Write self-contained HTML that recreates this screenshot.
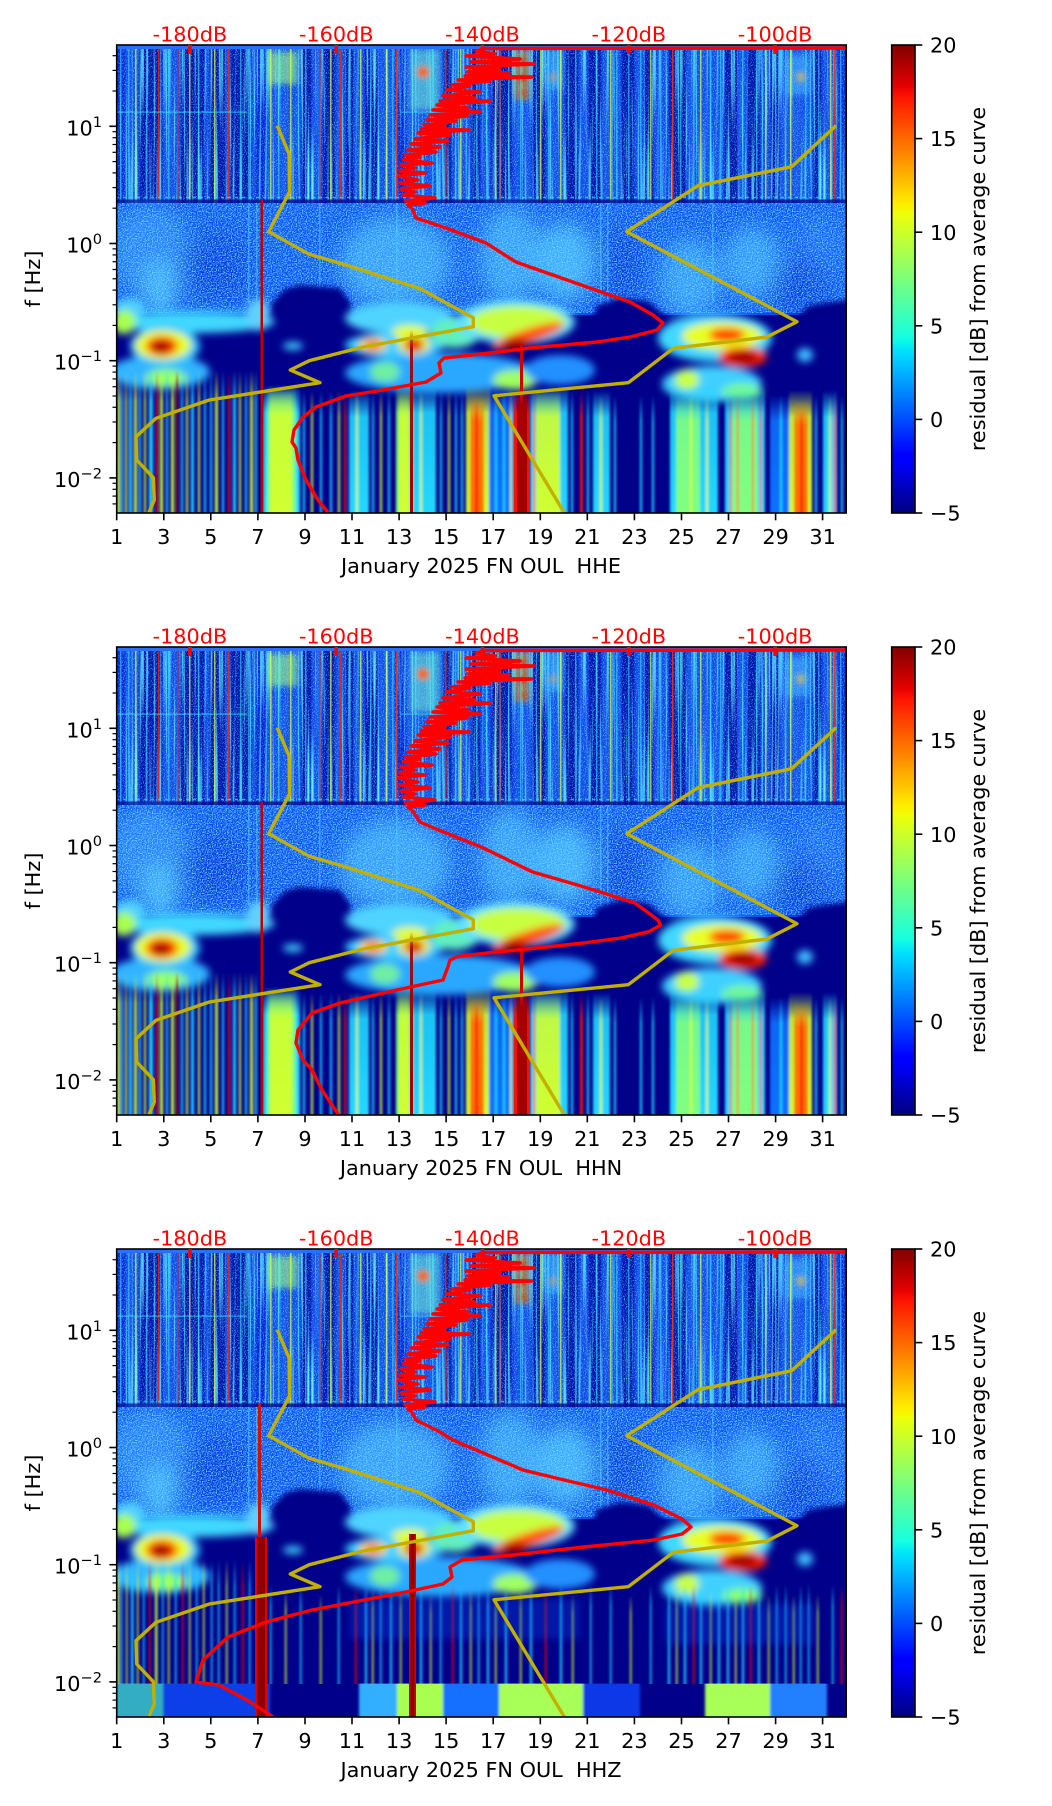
<!DOCTYPE html>
<html><head><meta charset="utf-8"><style>
html,body{margin:0;padding:0;background:#fff;}
svg{display:block;font-family:"DejaVu Sans","Liberation Sans",sans-serif;}
</style></head><body>
<svg xmlns="http://www.w3.org/2000/svg" width="1052" height="1806" viewBox="0 0 1052 1806">
<rect width="1052" height="1806" fill="#fff"/>
<defs>
<clipPath id="cp"><rect x="116.7" y="45" width="729.5" height="468"/></clipPath>
<linearGradient id="jet" x1="0" y1="1" x2="0" y2="0">
<stop offset="0" stop-color="#000080"/><stop offset="0.11" stop-color="#0000ff"/><stop offset="0.125" stop-color="#0000ff"/>
<stop offset="0.34" stop-color="#00dbff"/><stop offset="0.35" stop-color="#00e5f8"/><stop offset="0.375" stop-color="#14ffe2"/>
<stop offset="0.5" stop-color="#7bff7b"/><stop offset="0.64" stop-color="#eeff08"/><stop offset="0.65" stop-color="#f8f500"/>
<stop offset="0.66" stop-color="#ffed00"/><stop offset="0.89" stop-color="#ff1300"/><stop offset="0.91" stop-color="#e80000"/>
<stop offset="1" stop-color="#800000"/>
</linearGradient>
<linearGradient id="gY" x2="0" y2="1"><stop offset="0" stop-color="#d0ff30" stop-opacity="0"/><stop offset=".22" stop-color="#d0ff30" stop-opacity=".9"/><stop offset="1" stop-color="#d0ff30"/></linearGradient>
<linearGradient id="gG" x2="0" y2="1"><stop offset="0" stop-color="#80ff80" stop-opacity="0"/><stop offset=".22" stop-color="#80ff80" stop-opacity=".9"/><stop offset="1" stop-color="#80ff80"/></linearGradient>
<linearGradient id="gC" x2="0" y2="1"><stop offset="0" stop-color="#20d8ff" stop-opacity="0"/><stop offset=".22" stop-color="#20d8ff" stop-opacity=".9"/><stop offset="1" stop-color="#20d8ff"/></linearGradient>
<linearGradient id="gLB" x2="0" y2="1"><stop offset="0" stop-color="#1070ff" stop-opacity="0"/><stop offset=".22" stop-color="#1070ff" stop-opacity=".9"/><stop offset="1" stop-color="#1070ff"/></linearGradient>
<linearGradient id="gO" x2="0" y2="1"><stop offset="0" stop-color="#ff7000" stop-opacity="0"/><stop offset=".22" stop-color="#ff7000" stop-opacity=".9"/><stop offset="1" stop-color="#ff7000"/></linearGradient>
<linearGradient id="gR" x2="0" y2="1"><stop offset="0" stop-color="#ff1000" stop-opacity="0"/><stop offset=".22" stop-color="#ff1000" stop-opacity=".9"/><stop offset="1" stop-color="#ff1000"/></linearGradient>
<linearGradient id="gDR" x2="0" y2="1"><stop offset="0" stop-color="#a00000" stop-opacity="0"/><stop offset=".1" stop-color="#a00000" stop-opacity=".9"/><stop offset="1" stop-color="#a00000"/></linearGradient>
<filter id="b3" x="-20%" y="-20%" width="140%" height="140%"><feGaussianBlur stdDeviation="3"/></filter>
<filter id="b4" x="-20%" y="-20%" width="140%" height="140%"><feGaussianBlur stdDeviation="4"/></filter>
<filter id="b10" x="-30%" y="-30%" width="160%" height="160%"><feGaussianBlur stdDeviation="10"/></filter>
<filter id="bh" x="-20%" y="-5%" width="140%" height="110%"><feGaussianBlur stdDeviation="1.2 0"/></filter>
<filter id="nA" filterUnits="userSpaceOnUse" x="116" y="45" width="731" height="158">
<feTurbulence type="fractalNoise" baseFrequency="0.5 0.008" numOctaves="1" seed="5"/>
<feColorMatrix type="matrix" values="0 0 0 0 0.1  0 0 0 0 0.8  0 0 0 0 1  3.5 0 0 0 -1.75"/>
</filter>
<filter id="nS" filterUnits="userSpaceOnUse" x="116" y="45" width="731" height="158">
<feTurbulence type="fractalNoise" baseFrequency="0.9" numOctaves="1" seed="9"/>
<feColorMatrix type="matrix" values="0 0 0 0 0.2  0 0 0 0 0.85  0 0 0 0 1  3 0 0 0 -1.55"/>
</filter>
<filter id="nB" filterUnits="userSpaceOnUse" x="116" y="203" width="731" height="110">
<feTurbulence type="fractalNoise" baseFrequency="0.8" numOctaves="1" seed="2"/>
<feColorMatrix type="matrix" values="0 0 0 0 0.15  0 0 0 0 0.75  0 0 0 0 1  3 0 0 0 -1.25"/>
</filter>

<g id="spec">
<rect x="116" y="45" width="731" height="468" fill="#00008a"/>
<!-- region A -->
<rect x="116" y="45" width="731" height="158" fill="#0524d8"/>
<g fill="#020c98" opacity="0.65">
<rect x="140" y="45" width="20" height="158"/><rect x="181" y="45" width="23" height="158"/><rect x="210" y="45" width="15" height="158"/>
<rect x="231" y="45" width="19" height="158"/><rect x="302" y="45" width="9" height="158"/><rect x="323" y="45" width="12" height="158"/>
<rect x="346" y="45" width="7" height="158"/><rect x="365" y="45" width="12" height="158"/><rect x="444" y="45" width="7" height="158"/>
<rect x="472" y="45" width="8" height="158"/><rect x="491" y="45" width="21" height="158"/><rect x="533" y="45" width="12" height="158"/>
<rect x="566" y="45" width="12" height="158"/><rect x="589" y="45" width="12" height="158"/><rect x="622" y="45" width="12" height="158"/>
<rect x="645" y="45" width="8" height="158"/><rect x="669" y="45" width="16" height="158"/><rect x="725" y="45" width="12" height="158"/>
<rect x="748" y="45" width="12" height="158"/><rect x="771" y="45" width="8" height="158"/><rect x="814" y="45" width="7" height="158"/>
</g>
<g fill="#2a90ff" opacity="0.38" filter="url(#bh)">
<rect x="125" y="45" width="14" height="158"/><rect x="163" y="45" width="16" height="158"/><rect x="205" y="45" width="4" height="158"/>
<rect x="226" y="45" width="4" height="158"/><rect x="251" y="45" width="5" height="158"/><rect x="266" y="45" width="35" height="158"/>
<rect x="312" y="45" width="10" height="158"/><rect x="336" y="45" width="9" height="158"/><rect x="354" y="45" width="10" height="158"/>
<rect x="378" y="45" width="18" height="158"/><rect x="406" y="45" width="37" height="158"/><rect x="452" y="45" width="19" height="158"/>
<rect x="481" y="45" width="9" height="158"/><rect x="513" y="45" width="19" height="158"/><rect x="546" y="45" width="19" height="158"/>
<rect x="579" y="45" width="9" height="158"/><rect x="602" y="45" width="19" height="158"/><rect x="635" y="45" width="9" height="158"/>
<rect x="654" y="45" width="14" height="158"/><rect x="686" y="45" width="38" height="158"/><rect x="738" y="45" width="9" height="158"/>
<rect x="761" y="45" width="9" height="158"/><rect x="780" y="45" width="33" height="158"/><rect x="822" y="45" width="16" height="158"/>
</g>
<rect x="116" y="45" width="731" height="158" filter="url(#nA)"/>
<rect x="116" y="45" width="731" height="158" filter="url(#nS)"/>
<g filter="url(#b3)">
<rect x="268" y="52" width="30" height="32" fill="#a0ff80" opacity="0.6"/>
<rect x="410" y="50" width="30" height="60" fill="#70f0d0" opacity="0.55"/>
<ellipse cx="423" cy="72" rx="6" ry="6" fill="#ff6000"/>
<rect x="515" y="50" width="14" height="50" fill="#ffa000" opacity="0.55"/>
<ellipse cx="521" cy="62" rx="4" ry="5" fill="#c00000"/><ellipse cx="522" cy="78" rx="4" ry="5" fill="#d00000"/><ellipse cx="523" cy="93" rx="3" ry="4" fill="#d00000"/>
<ellipse cx="553" cy="77" rx="4" ry="4" fill="#ff8000"/>
<ellipse cx="801" cy="77" rx="5" ry="5" fill="#ffa000"/>
<rect x="548" y="50" width="15" height="40" fill="#50d0ff" opacity="0.5"/>
<rect x="785" y="55" width="25" height="40" fill="#50d0ff" opacity="0.45"/>
</g>
<g fill="#ff2000" opacity="0.8">
<rect x="158" y="45" width="1.5" height="158"/><rect x="177" y="45" width="1.5" height="158"/><rect x="228" y="45" width="1.5" height="158"/>
<rect x="319" y="45" width="1.5" height="158"/><rect x="340" y="45" width="1.5" height="158"/><rect x="396" y="45" width="1.5" height="158"/>
<rect x="445" y="45" width="1.5" height="158"/><rect x="499" y="45" width="1.5" height="158"/><rect x="672" y="45" width="1.5" height="158"/>
<rect x="834" y="45" width="1.5" height="158"/>
</g>
<g fill="#e0ff40" opacity="0.7">
<rect x="135" y="45" width="1.5" height="158"/><rect x="189" y="45" width="1.5" height="158"/><rect x="214" y="45" width="1.5" height="158"/>
<rect x="270" y="45" width="1.5" height="158"/><rect x="290" y="45" width="1.5" height="158"/><rect x="330" y="45" width="1.5" height="158"/>
<rect x="360" y="45" width="1.5" height="158"/><rect x="386" y="45" width="1.5" height="158"/><rect x="460" y="45" width="1.5" height="158"/>
<rect x="495" y="45" width="1.5" height="158"/><rect x="540" y="45" width="1.5" height="158"/><rect x="560" y="45" width="1.5" height="158"/>
<rect x="610" y="45" width="1.5" height="158"/><rect x="650" y="45" width="1.5" height="158"/><rect x="700" y="45" width="1.5" height="158"/>
<rect x="765" y="45" width="1.5" height="158"/><rect x="790" y="45" width="1.5" height="158"/><rect x="830" y="45" width="1.5" height="158"/>
</g>
<g fill="#40e0ff" opacity="0.55">
<rect x="120" y="45" width="1.5" height="158"/><rect x="128" y="45" width="1.5" height="158"/><rect x="146" y="45" width="1.5" height="158"/>
<rect x="168" y="45" width="1.5" height="158"/><rect x="198" y="45" width="1.5" height="158"/><rect x="240" y="45" width="1.5" height="158"/>
<rect x="248" y="45" width="1.5" height="158"/><rect x="278" y="45" width="1.5" height="158"/><rect x="305" y="45" width="1.5" height="158"/>
<rect x="349" y="45" width="1.5" height="158"/><rect x="370" y="45" width="1.5" height="158"/><rect x="392" y="45" width="1.5" height="158"/>
<rect x="415" y="45" width="1.5" height="158"/><rect x="432" y="45" width="1.5" height="158"/><rect x="455" y="45" width="1.5" height="158"/>
<rect x="476" y="45" width="1.5" height="158"/><rect x="486" y="45" width="1.5" height="158"/><rect x="508" y="45" width="1.5" height="158"/>
<rect x="520" y="45" width="1.5" height="158"/><rect x="548" y="45" width="1.5" height="158"/><rect x="575" y="45" width="1.5" height="158"/>
<rect x="596" y="45" width="1.5" height="158"/><rect x="616" y="45" width="1.5" height="158"/><rect x="628" y="45" width="1.5" height="158"/>
<rect x="640" y="45" width="1.5" height="158"/><rect x="660" y="45" width="1.5" height="158"/><rect x="680" y="45" width="1.5" height="158"/>
<rect x="693" y="45" width="1.5" height="158"/><rect x="710" y="45" width="1.5" height="158"/><rect x="720" y="45" width="1.5" height="158"/>
<rect x="742" y="45" width="1.5" height="158"/><rect x="756" y="45" width="1.5" height="158"/><rect x="775" y="45" width="1.5" height="158"/>
<rect x="785" y="45" width="1.5" height="158"/><rect x="805" y="45" width="1.5" height="158"/><rect x="818" y="45" width="1.5" height="158"/>
<rect x="840" y="45" width="1.5" height="158"/>
</g>
<rect x="116" y="111.5" width="131" height="1.3" fill="#40e0ff" opacity="0.6"/>
<rect x="400" y="111.5" width="60" height="1.3" fill="#40e0ff" opacity="0.5"/>
<rect x="116" y="45" width="731" height="4" fill="#2a70ff"/>
<line x1="116" y1="197.5" x2="847" y2="197.5" stroke="#40e0ff" stroke-width="1.5" stroke-dasharray="3 4" opacity="0.7"/>
<rect x="116" y="199.5" width="731" height="3.5" fill="#000a90" opacity="0.8"/>
<!-- region B -->
<rect x="116" y="203" width="731" height="112" fill="#0c4cf4"/>
<g filter="url(#b10)" opacity="0.85">
<ellipse cx="150" cy="250" rx="40" ry="45" fill="#2a80ff"/>
<ellipse cx="160" cy="290" rx="16" ry="30" fill="#50c0ff"/>
<ellipse cx="395" cy="262" rx="55" ry="45" fill="#3ea4ff"/>
<ellipse cx="510" cy="255" rx="30" ry="48" fill="#3ea4ff"/>
<ellipse cx="565" cy="262" rx="30" ry="40" fill="#4ab8ff"/>
<ellipse cx="690" cy="278" rx="30" ry="40" fill="#3aa0ff"/>
<ellipse cx="752" cy="262" rx="28" ry="35" fill="#3aa0ff"/>
<ellipse cx="820" cy="250" rx="25" ry="40" fill="#1a60ff"/>
<ellipse cx="215" cy="265" rx="35" ry="35" fill="#0520c8" opacity="0.6"/>
<ellipse cx="620" cy="265" rx="25" ry="35" fill="#0520c8" opacity="0.6"/>
<ellipse cx="800" cy="285" rx="30" ry="30" fill="#0520c8" opacity="0.6"/>
</g>
<rect x="116" y="203" width="731" height="112" filter="url(#nB)"/>
<g fill="#50d0ff" opacity="0.5">
<rect x="248" y="203" width="1.5" height="100"/><rect x="256" y="203" width="1.5" height="100"/><rect x="319" y="203" width="1.5" height="90"/>
<rect x="396" y="203" width="1.5" height="100"/><rect x="600" y="203" width="1.5" height="100"/><rect x="607" y="203" width="1.5" height="100"/>
<rect x="712" y="203" width="1.5" height="100"/>
</g>
<!-- navy mountains -->
<g fill="#00008a" filter="url(#b3)">
<polygon points="255,352 262,325 272,303 285,289 300,285 340,288 350,302 357,330 362,352"/>
<polygon points="588,354 596,306 620,298 648,301 665,316 682,336 690,354"/>
<polygon points="778,364 790,326 808,306 830,302 850,300 850,368"/>
<rect x="110" y="334" width="152" height="20"/>
<rect x="216" y="347" width="134" height="48"/>
</g>
<!-- blobs -->
<g filter="url(#b4)">
<ellipse cx="160" cy="372" rx="50" ry="17" fill="#30b4ff"/>
<ellipse cx="166" cy="378" rx="20" ry="9" fill="#90ff70"/>
<ellipse cx="440" cy="373" rx="95" ry="20" fill="#2aa8ff"/>
<ellipse cx="515" cy="380" rx="22" ry="10" fill="#a0ff60"/>
<ellipse cx="385" cy="372" rx="15" ry="10" fill="#70f0a0"/>
<ellipse cx="560" cy="370" rx="35" ry="15" fill="#2090ff"/>
<ellipse cx="712" cy="384" rx="50" ry="18" fill="#40d0ff"/>
<ellipse cx="687" cy="380" rx="12" ry="10" fill="#c8ff40"/>
<ellipse cx="742" cy="392" rx="20" ry="8" fill="#80ff80"/>
<ellipse cx="195" cy="322" rx="80" ry="11" fill="#40d8ff"/>
<ellipse cx="130" cy="308" rx="15" ry="10" fill="#50d0ff"/>
<ellipse cx="124" cy="322" rx="12" ry="12" fill="#a8ff50"/>
<ellipse cx="258" cy="315" rx="12" ry="16" fill="#60d0ff"/>
<ellipse cx="165" cy="346" rx="35" ry="20" fill="#30c8ff"/>
<ellipse cx="163" cy="345" rx="28" ry="15" fill="#e8ff20"/>
<ellipse cx="162" cy="346" rx="16" ry="10" fill="#ff4000"/>
<ellipse cx="161" cy="347" rx="9" ry="6" fill="#a00000"/>
<ellipse cx="400" cy="318" rx="55" ry="16" fill="#50d4ff"/>
<ellipse cx="395" cy="345" rx="50" ry="12" fill="#40d0ff"/>
<ellipse cx="410" cy="332" rx="18" ry="7" fill="#e0ff30"/>
<ellipse cx="414" cy="344" rx="16" ry="10" fill="#f0f020"/>
<ellipse cx="414" cy="345" rx="9" ry="7" fill="#e00000"/>
<ellipse cx="373" cy="345" rx="14" ry="7" fill="#ffd000"/>
<ellipse cx="373" cy="345" rx="8" ry="4" fill="#ff5000"/>
<ellipse cx="455" cy="333" rx="25" ry="15" fill="#60f0c0"/>
<ellipse cx="515" cy="322" rx="60" ry="22" fill="#60e0ff"/>
<ellipse cx="518" cy="322" rx="48" ry="16" fill="#c8ff40"/>
<ellipse cx="528" cy="336" rx="38" ry="7" fill="#ff5000" transform="rotate(-18 528 336)"/>
<ellipse cx="514" cy="344" rx="12" ry="6" fill="#b00000"/>
<ellipse cx="715" cy="338" rx="57" ry="24" fill="#40d8ff"/>
<ellipse cx="722" cy="336" rx="40" ry="14" fill="#e8ff20"/>
<ellipse cx="727" cy="335" rx="18" ry="7" fill="#ff4000"/>
<ellipse cx="743" cy="357" rx="24" ry="10" fill="#ff2000"/>
<ellipse cx="743" cy="357" rx="15" ry="6" fill="#a00000"/>
<ellipse cx="805" cy="355" rx="8" ry="7" fill="#40c0ff"/>
<ellipse cx="293" cy="346" rx="10" ry="4" fill="#40d0ff"/>
</g>
</g>

<g id="low12">
<g filter="url(#bh)">
<rect x="117" y="370" width="3" height="143" fill="url(#gY)"/><rect x="121" y="370" width="2" height="143" fill="url(#gC)"/>
<rect x="125" y="370" width="2" height="143" fill="url(#gY)"/><rect x="129" y="370" width="3" height="143" fill="url(#gC)"/>
<rect x="134" y="370" width="3" height="143" fill="url(#gY)"/><rect x="139" y="370" width="2" height="143" fill="url(#gC)"/>
<rect x="144" y="370" width="2" height="143" fill="url(#gY)"/><rect x="149" y="370" width="4" height="143" fill="url(#gC)"/>
<rect x="156" y="370" width="2" height="143" fill="url(#gR)"/><rect x="160" y="370" width="3" height="143" fill="url(#gY)"/>
<rect x="166" y="370" width="2" height="143" fill="url(#gC)"/><rect x="171" y="370" width="3" height="143" fill="url(#gY)"/>
<rect x="176" y="370" width="2" height="143" fill="url(#gDR)"/><rect x="181" y="370" width="2" height="143" fill="url(#gC)"/>
<rect x="186" y="370" width="2" height="143" fill="url(#gY)"/><rect x="191" y="370" width="3" height="143" fill="url(#gC)"/>
<rect x="198" y="370" width="2" height="143" fill="url(#gY)"/><rect x="204" y="370" width="2" height="143" fill="url(#gC)"/>
<rect x="210" y="370" width="2" height="143" fill="url(#gC)"/><rect x="215" y="370" width="3" height="143" fill="url(#gY)"/>
<rect x="222" y="370" width="2" height="143" fill="url(#gC)"/><rect x="228" y="370" width="2" height="143" fill="url(#gR)"/>
<rect x="233" y="370" width="3" height="143" fill="url(#gC)"/><rect x="239" y="370" width="2" height="143" fill="url(#gY)"/>
<rect x="245" y="370" width="2" height="143" fill="url(#gC)"/><rect x="250" y="370" width="3" height="143" fill="url(#gY)"/>
<rect x="255" y="370" width="2" height="143" fill="url(#gC)"/>
<rect x="263" y="385" width="37" height="128" fill="url(#gC)"/><rect x="267" y="385" width="29" height="128" fill="url(#gG)"/><rect x="270" y="390" width="22" height="123" fill="url(#gY)"/>
<rect x="303" y="390" width="2" height="123" fill="url(#gC)"/><rect x="311" y="390" width="2" height="123" fill="url(#gY)"/>
<rect x="320" y="390" width="2" height="123" fill="url(#gC)"/><rect x="330" y="390" width="2" height="123" fill="url(#gC)"/>
<rect x="338" y="390" width="2" height="123" fill="url(#gY)"/><rect x="344" y="390" width="2" height="123" fill="url(#gR)"/>
<rect x="349" y="390" width="20" height="123" fill="url(#gC)"/><rect x="356" y="390" width="2" height="123" fill="url(#gY)"/>
<rect x="372" y="390" width="2" height="123" fill="url(#gC)"/><rect x="380" y="390" width="2" height="123" fill="url(#gY)"/>
<rect x="388" y="390" width="2" height="123" fill="url(#gC)"/>
<rect x="396" y="385" width="17" height="128" fill="url(#gG)"/><rect x="399" y="390" width="10" height="123" fill="url(#gY)"/>
<rect x="413" y="385" width="23" height="128" fill="url(#gC)"/><rect x="420" y="390" width="2" height="123" fill="url(#gY)"/>
<rect x="440" y="390" width="2" height="123" fill="url(#gC)"/><rect x="448" y="390" width="2" height="123" fill="url(#gY)"/>
<rect x="455" y="390" width="2" height="123" fill="url(#gC)"/><rect x="461" y="390" width="2" height="123" fill="url(#gC)"/>
<rect x="466" y="385" width="24" height="128" fill="url(#gY)"/><rect x="470" y="395" width="14" height="118" fill="url(#gO)"/><rect x="475" y="400" width="3" height="113" fill="url(#gR)"/>
<rect x="489" y="385" width="27" height="128" fill="url(#gLB)"/><rect x="495" y="390" width="2" height="123" fill="url(#gC)"/>
<rect x="503" y="390" width="2" height="123" fill="url(#gC)"/><rect x="510" y="390" width="2" height="123" fill="url(#gY)"/>
<rect x="530" y="385" width="38" height="128" fill="url(#gC)"/><rect x="536" y="390" width="24" height="123" fill="url(#gY)"/>
<rect x="533" y="390" width="2" height="123" fill="url(#gO)"/>
<rect x="571" y="390" width="2" height="123" fill="url(#gC)"/><rect x="580" y="390" width="3" height="123" fill="url(#gR)"/>
<rect x="587" y="390" width="2" height="123" fill="url(#gC)"/>
<rect x="593" y="390" width="17" height="123" fill="url(#gC)"/><rect x="600" y="395" width="2" height="118" fill="url(#gY)"/>
<rect x="614" y="395" width="2" height="118" fill="url(#gC)"/><rect x="640" y="395" width="2" height="118" fill="url(#gC)"/>
<rect x="652" y="395" width="2" height="118" fill="url(#gC)"/>
<rect x="670" y="385" width="48" height="128" fill="url(#gC)"/><rect x="676" y="395" width="24" height="118" fill="url(#gG)"/>
<rect x="690" y="395" width="2" height="118" fill="url(#gY)"/><rect x="706" y="395" width="2" height="118" fill="url(#gY)"/>
<rect x="725" y="385" width="40" height="128" fill="url(#gC)"/><rect x="732" y="395" width="26" height="118" fill="url(#gG)"/>
<rect x="730" y="395" width="1.5" height="118" fill="url(#gR)"/><rect x="737" y="395" width="1.5" height="118" fill="url(#gR)"/>
<rect x="752" y="395" width="1.5" height="118" fill="url(#gR)"/><rect x="760" y="395" width="1.5" height="118" fill="url(#gR)"/>
<rect x="770" y="395" width="20" height="118" fill="url(#gLB)"/><rect x="780" y="395" width="2" height="118" fill="url(#gC)"/>
<rect x="789" y="390" width="23" height="123" fill="url(#gY)"/><rect x="794" y="400" width="14" height="113" fill="url(#gO)"/><rect x="800" y="410" width="3" height="103" fill="url(#gR)"/>
<rect x="815" y="395" width="2" height="118" fill="url(#gC)"/>
<rect x="823" y="390" width="14" height="123" fill="url(#gC)"/><rect x="829" y="395" width="2" height="118" fill="url(#gY)"/>
<rect x="834" y="395" width="2" height="118" fill="url(#gR)"/><rect x="841" y="395" width="2" height="118" fill="url(#gC)"/>
</g>
<rect x="520" y="344" width="3" height="60" fill="#d00000"/>
<rect x="514" y="388" width="16" height="125" fill="url(#gR)"/><rect x="517" y="392" width="10" height="121" fill="url(#gDR)"/>
<rect x="410" y="330" width="3" height="183" fill="url(#gDR)"/>
<rect x="260.5" y="200" width="2.5" height="313" fill="#c00000"/>
</g>

<g id="low3">
<g filter="url(#bh)">
<rect x="117" y="355" width="2.5" height="125" fill="url(#gY)"/><rect x="121" y="355" width="1.5" height="125" fill="url(#gC)"/>
<rect x="126" y="355" width="1.5" height="125" fill="url(#gY)"/><rect x="131" y="355" width="2.5" height="125" fill="url(#gC)"/>
<rect x="137" y="355" width="1.5" height="125" fill="url(#gY)"/><rect x="143" y="355" width="1.5" height="125" fill="url(#gC)"/>
<rect x="149" y="355" width="1.5" height="125" fill="url(#gR)"/><rect x="155" y="355" width="2.5" height="125" fill="url(#gY)"/>
<rect x="162" y="355" width="1.5" height="125" fill="url(#gC)"/><rect x="168" y="355" width="1.5" height="125" fill="url(#gY)"/>
<rect x="175" y="355" width="1.5" height="125" fill="url(#gC)"/><rect x="182" y="355" width="1.5" height="125" fill="url(#gR)"/>
<rect x="189" y="355" width="1.5" height="125" fill="url(#gY)"/><rect x="196" y="355" width="1.5" height="125" fill="url(#gC)"/>
<rect x="203" y="355" width="1.5" height="125" fill="url(#gY)"/><rect x="211" y="355" width="1.5" height="125" fill="url(#gC)"/>
<rect x="218" y="355" width="1.5" height="125" fill="url(#gC)"/><rect x="226" y="355" width="1.5" height="125" fill="url(#gY)"/>
<rect x="234" y="355" width="1.5" height="125" fill="url(#gC)"/><rect x="242" y="355" width="1.5" height="125" fill="url(#gR)"/>
<rect x="249" y="355" width="1.5" height="125" fill="url(#gC)"/>
<rect x="270" y="380" width="1.5" height="100" fill="url(#gC)"/><rect x="285" y="385" width="1.5" height="95" fill="url(#gY)"/>
<rect x="300" y="380" width="1.5" height="100" fill="url(#gC)"/><rect x="320" y="390" width="1.5" height="90" fill="url(#gY)"/>
<rect x="338" y="380" width="1.5" height="100" fill="url(#gC)"/><rect x="355" y="380" width="1.5" height="100" fill="url(#gR)"/>
<rect x="365" y="380" width="2" height="100" fill="url(#gC)"/><rect x="372" y="385" width="1.5" height="95" fill="url(#gY)"/>
<rect x="380" y="380" width="1.5" height="100" fill="url(#gC)"/><rect x="390" y="380" width="2" height="100" fill="url(#gC)"/>
<rect x="400" y="385" width="1.5" height="95" fill="url(#gY)"/><rect x="420" y="380" width="2" height="100" fill="url(#gC)"/>
<rect x="430" y="390" width="1.5" height="90" fill="url(#gY)"/><rect x="440" y="380" width="1.5" height="100" fill="url(#gC)"/>
<rect x="452" y="380" width="1.5" height="100" fill="url(#gR)"/><rect x="460" y="380" width="2" height="100" fill="url(#gC)"/>
<rect x="470" y="385" width="1.5" height="95" fill="url(#gY)"/><rect x="478" y="380" width="1.5" height="100" fill="url(#gC)"/>
<rect x="487" y="380" width="2" height="100" fill="url(#gC)"/><rect x="495" y="390" width="1.5" height="90" fill="url(#gY)"/>
<rect x="505" y="380" width="2" height="100" fill="url(#gC)"/><rect x="520" y="385" width="1.5" height="95" fill="url(#gY)"/>
<rect x="530" y="380" width="2" height="100" fill="url(#gC)"/><rect x="545" y="380" width="1.5" height="100" fill="url(#gR)"/>
<rect x="560" y="380" width="2" height="100" fill="url(#gC)"/><rect x="572" y="390" width="1.5" height="90" fill="url(#gY)"/>
<rect x="590" y="380" width="1.5" height="100" fill="url(#gC)"/><rect x="610" y="380" width="1.5" height="100" fill="url(#gC)"/>
<rect x="630" y="390" width="1.5" height="90" fill="url(#gY)"/><rect x="650" y="380" width="1.5" height="100" fill="url(#gC)"/>
<rect x="668" y="380" width="2" height="100" fill="url(#gC)"/><rect x="676" y="385" width="1.5" height="95" fill="url(#gY)"/>
<rect x="684" y="380" width="2" height="100" fill="url(#gC)"/><rect x="693" y="380" width="1.5" height="100" fill="url(#gR)"/>
<rect x="700" y="380" width="2" height="100" fill="url(#gC)"/><rect x="710" y="385" width="1.5" height="95" fill="url(#gY)"/>
<rect x="718" y="380" width="2" height="100" fill="url(#gC)"/><rect x="727" y="380" width="2" height="100" fill="url(#gC)"/>
<rect x="735" y="385" width="1.5" height="95" fill="url(#gY)"/><rect x="742" y="380" width="2" height="100" fill="url(#gC)"/>
<rect x="750" y="380" width="1.5" height="100" fill="url(#gR)"/><rect x="758" y="380" width="2" height="100" fill="url(#gC)"/>
<rect x="768" y="390" width="1.5" height="90" fill="url(#gY)"/><rect x="776" y="380" width="1.5" height="100" fill="url(#gC)"/>
<rect x="785" y="380" width="1.5" height="100" fill="url(#gC)"/><rect x="793" y="390" width="1.5" height="90" fill="url(#gY)"/>
<rect x="800" y="380" width="1.5" height="100" fill="url(#gC)"/><rect x="808" y="380" width="1.5" height="100" fill="url(#gC)"/>
<rect x="817" y="390" width="1.5" height="90" fill="url(#gY)"/><rect x="832" y="380" width="1.5" height="100" fill="url(#gC)"/>
<rect x="841" y="380" width="1.5" height="100" fill="url(#gR)"/>
</g>
<g opacity="0.25" fill="#1060ff" filter="url(#b4)">
<rect x="350" y="395" width="230" height="40"/><rect x="665" y="400" width="150" height="40"/>
</g>
<!-- bottom band below 0.01 Hz -->
<g filter="url(#bh)">
<rect x="116" y="479.6" width="47" height="34" fill="#40d8d0" opacity="0.8"/>
<rect x="163" y="479.6" width="107" height="34" fill="#1050ff" opacity="0.8"/>
<rect x="359" y="479.6" width="38" height="34" fill="#30b0ff"/>
<rect x="397" y="479.6" width="46" height="34" fill="#a8ff50"/>
<rect x="443" y="479.6" width="56" height="34" fill="#1870ff"/>
<rect x="499" y="479.6" width="84" height="34" fill="#a8ff58"/>
<rect x="583" y="479.6" width="57" height="34" fill="#0838e8"/>
<rect x="705" y="479.6" width="65" height="34" fill="#a8ff58"/>
<rect x="770" y="479.6" width="57" height="34" fill="#2080ff"/>
</g>
<rect x="258" y="200" width="3" height="135" fill="#d01000"/>
<rect x="255" y="333" width="12" height="180" fill="#e00000"/><rect x="257" y="333" width="8" height="180" fill="#900000"/>
<rect x="409" y="330" width="7" height="183" fill="#d00000"/><rect x="410.5" y="330" width="4" height="183" fill="#900000"/>
</g>

<polyline id="nl" points="277.3,125.7 289,154 289.5,192 268.7,231.7 309.3,254.3 349.3,266 419.3,288.3 473.3,317.7 473.3,326.7 363,347 309.3,360.7 290.3,370 320,382.7 209.3,400 156,418.3 136,436.7 136.7,460 153.3,477.7 154.3,500 148.3,514" fill="none" stroke="#c2b000" stroke-width="3.4" stroke-linejoin="round"/>
<polyline id="nh" points="836,125.7 791.6,166.7 698,185.7 626.7,231.7 797,321.7 767,337 673.3,348.3 628.3,382.7 494,395.8 565,514" fill="none" stroke="#c2b000" stroke-width="3.4" stroke-linejoin="round"/>

<path id="jag" fill="none" stroke="#ff0000" stroke-width="3.4" stroke-linejoin="round" d="M847,48 L485,48.5 L476,51 L495,54 L466,56 L520,59 L471,62 L534,64 L466,67 L500,69 L468,72 L509,73 L465,76 L532,77 L458,80 L490,81 L452,85 L470,86 L447,90 L480,92 L443,96 L475,98 L440,101 L490,101 L437,105 L468,108 L433,110 L480,112 L430,115 L467,116 L427,120 L456,121 L424,125 L445,126 L421,129 L469,130 L418,133 L450,135 L415,139 L448,141 L411,144 L440,147 L408,150 L436,152 L405,155 L420,157 L403,160 L432,163 L401,165 L415,168 L400,171 L425,173 L399,176 L418,180 L400,183 L430,186 L401,189 L415,192 L403,195 L435,198 L405,201 L425,203 L408,205 L412,208"/>
<path id="r1" fill="none" stroke="#ff0000" stroke-width="3.4" stroke-linejoin="round" d="M412,208 L416,218 L449,229 L486,243 L516,262 L530,267 L590,288 L630,302 L653,315 L663,323 L657,330 L630,337 L597,342 L530,348 L499,352 L444,358 L439,363 L441,373 L426,382 L383,390 L346,396 L316,407 L303,417 L294,430 L292,442 L296,448 L298,460 L306,480 L318,500 L330,515"/>
<path id="r2" fill="none" stroke="#ff0000" stroke-width="3.4" stroke-linejoin="round" d="M412,208 L420,220 L438.6,228 L480.7,244.7 L532,269.7 L583.5,284.7 L635,301 L658,318 L660.6,323 L649,329.7 L621,336 L583.5,341 L537,346 L490,350.7 L457,354.7 L450,358 L448,364.7 L443,378 L396.5,388 L340,401 L312,411 L298,428 L296,441 L303,458 L312,468 L322,488 L340,515"/>
<path id="r3" fill="none" stroke="#ff0000" stroke-width="3.4" stroke-linejoin="round" d="M412,208 L416,216 L440,228 L453,236 L523,266 L560,275 L607,286 L654,301 L682,315 L691,323 L682,330 L654,336 L584,343 L513,351 L462,356 L450,363 L452,373 L443,380 L406,388 L364,396 L312,406 L266,418 L228,433 L203,456 L196,478 L219,481 L247,496 L276,515"/>

<g id="ax">
<rect x="116.7" y="45" width="729.5" height="468" fill="none" stroke="#000" stroke-width="1.6"/>
<g stroke="#000" stroke-width="1.6">
<line x1="116.7" y1="513" x2="116.7" y2="520.3"/><line x1="163.8" y1="513" x2="163.8" y2="520.3"/>
<line x1="210.8" y1="513" x2="210.8" y2="520.3"/><line x1="257.9" y1="513" x2="257.9" y2="520.3"/>
<line x1="305" y1="513" x2="305" y2="520.3"/><line x1="352" y1="513" x2="352" y2="520.3"/>
<line x1="399.1" y1="513" x2="399.1" y2="520.3"/><line x1="446.1" y1="513" x2="446.1" y2="520.3"/>
<line x1="493.2" y1="513" x2="493.2" y2="520.3"/><line x1="540.3" y1="513" x2="540.3" y2="520.3"/>
<line x1="587.3" y1="513" x2="587.3" y2="520.3"/><line x1="634.4" y1="513" x2="634.4" y2="520.3"/>
<line x1="681.5" y1="513" x2="681.5" y2="520.3"/><line x1="728.5" y1="513" x2="728.5" y2="520.3"/>
<line x1="775.6" y1="513" x2="775.6" y2="520.3"/><line x1="822.6" y1="513" x2="822.6" y2="520.3"/>
<line x1="109.4" y1="126.3" x2="116.7" y2="126.3"/><line x1="109.4" y1="243.5" x2="116.7" y2="243.5"/>
<line x1="109.4" y1="360.7" x2="116.7" y2="360.7"/><line x1="109.4" y1="477.9" x2="116.7" y2="477.9"/>
</g>
<g stroke="#000" stroke-width="1.2">
<line x1="112.5" y1="91" x2="116.7" y2="91"/><line x1="112.5" y1="70.4" x2="116.7" y2="70.4"/><line x1="112.5" y1="55.7" x2="116.7" y2="55.7"/>
<line x1="112.5" y1="208.2" x2="116.7" y2="208.2"/><line x1="112.5" y1="187.6" x2="116.7" y2="187.6"/><line x1="112.5" y1="172.9" x2="116.7" y2="172.9"/>
<line x1="112.5" y1="161.6" x2="116.7" y2="161.6"/><line x1="112.5" y1="152.3" x2="116.7" y2="152.3"/><line x1="112.5" y1="144.5" x2="116.7" y2="144.5"/>
<line x1="112.5" y1="137.7" x2="116.7" y2="137.7"/><line x1="112.5" y1="131.7" x2="116.7" y2="131.7"/>
<line x1="112.5" y1="325.4" x2="116.7" y2="325.4"/><line x1="112.5" y1="304.8" x2="116.7" y2="304.8"/><line x1="112.5" y1="290.1" x2="116.7" y2="290.1"/>
<line x1="112.5" y1="278.8" x2="116.7" y2="278.8"/><line x1="112.5" y1="269.5" x2="116.7" y2="269.5"/><line x1="112.5" y1="261.7" x2="116.7" y2="261.7"/>
<line x1="112.5" y1="254.9" x2="116.7" y2="254.9"/><line x1="112.5" y1="248.9" x2="116.7" y2="248.9"/>
<line x1="112.5" y1="442.6" x2="116.7" y2="442.6"/><line x1="112.5" y1="422" x2="116.7" y2="422"/><line x1="112.5" y1="407.3" x2="116.7" y2="407.3"/>
<line x1="112.5" y1="396" x2="116.7" y2="396"/><line x1="112.5" y1="386.7" x2="116.7" y2="386.7"/><line x1="112.5" y1="378.9" x2="116.7" y2="378.9"/>
<line x1="112.5" y1="372.1" x2="116.7" y2="372.1"/><line x1="112.5" y1="366.1" x2="116.7" y2="366.1"/>
<line x1="112.5" y1="503.9" x2="116.7" y2="503.9"/><line x1="112.5" y1="496.1" x2="116.7" y2="496.1"/><line x1="112.5" y1="489.3" x2="116.7" y2="489.3"/>
<line x1="112.5" y1="483.3" x2="116.7" y2="483.3"/>
</g>
<g font-size="20.8" fill="#000" text-anchor="middle">
<text x="116.7" y="544">1</text><text x="163.8" y="544">3</text><text x="210.8" y="544">5</text><text x="257.9" y="544">7</text>
<text x="305" y="544">9</text><text x="352" y="544">11</text><text x="399.1" y="544">13</text><text x="446.1" y="544">15</text>
<text x="493.2" y="544">17</text><text x="540.3" y="544">19</text><text x="587.3" y="544">21</text><text x="634.4" y="544">23</text>
<text x="681.5" y="544">25</text><text x="728.5" y="544">27</text><text x="775.6" y="544">29</text><text x="822.6" y="544">31</text>
</g>
<g font-size="20.8" fill="#000" text-anchor="end">
<text x="102" y="135.3">10<tspan font-size="14.6" dy="-8.5">1</tspan></text>
<text x="102" y="252.5">10<tspan font-size="14.6" dy="-8.5">0</tspan></text>
<text x="102" y="369.7">10<tspan font-size="14.6" dy="-8.5">−1</tspan></text>
<text x="102" y="486.9">10<tspan font-size="14.6" dy="-8.5">−2</tspan></text>
</g>
<g stroke="#ff0000" stroke-width="3.6">
<line x1="189.9" y1="45" x2="189.9" y2="54"/><line x1="336.2" y1="45" x2="336.2" y2="54"/>
<line x1="482.5" y1="45" x2="482.5" y2="54"/><line x1="628.8" y1="45" x2="628.8" y2="54"/>
<line x1="775.1" y1="45" x2="775.1" y2="54"/>
</g>
<g font-size="20.8" fill="#ff0000" text-anchor="middle">
<text x="189.9" y="41.5">-180dB</text><text x="336.2" y="41.5">-160dB</text><text x="482.5" y="41.5">-140dB</text>
<text x="628.8" y="41.5">-120dB</text><text x="775.1" y="41.5">-100dB</text>
</g>
<text font-size="20.8" fill="#000" text-anchor="middle" transform="translate(40,279) rotate(-90)">f [Hz]</text>
<rect x="891.7" y="45" width="23.3" height="468" fill="url(#jet)" stroke="#000" stroke-width="1.6"/>
<g stroke="#000" stroke-width="1.6">
<line x1="915" y1="45" x2="922.3" y2="45"/><line x1="915" y1="138.6" x2="922.3" y2="138.6"/>
<line x1="915" y1="232.2" x2="922.3" y2="232.2"/><line x1="915" y1="325.8" x2="922.3" y2="325.8"/>
<line x1="915" y1="419.4" x2="922.3" y2="419.4"/><line x1="915" y1="513" x2="922.3" y2="513"/>
</g>
<g font-size="20.8" fill="#000">
<text x="930" y="52.6">20</text><text x="930" y="146.2">15</text><text x="930" y="239.8">10</text>
<text x="930" y="333.4">5</text><text x="930" y="427">0</text><text x="930" y="520.6">−5</text>
</g>
<text font-size="20.8" fill="#000" text-anchor="middle" transform="translate(985,279) rotate(-90)">residual [dB] from average curve</text>
</g>
</defs>

<!-- Panel 1 -->
<g>
<g clip-path="url(#cp)">
<use href="#spec"/><use href="#low12"/><use href="#nl"/><use href="#nh"/><use href="#jag"/><use href="#r1"/>
</g>
<use href="#ax"/>
<text x="481" y="573" font-size="20.8" text-anchor="middle" style="white-space:pre">January 2025 FN OUL  HHE</text>
</g>
<!-- Panel 2 -->
<g transform="translate(0,602)">
<g clip-path="url(#cp)">
<use href="#spec"/><use href="#low12"/><use href="#nl"/><use href="#nh"/><use href="#jag"/><use href="#r2"/>
</g>
<use href="#ax"/>
<text x="481" y="573" font-size="20.8" text-anchor="middle" style="white-space:pre">January 2025 FN OUL  HHN</text>
</g>
<!-- Panel 3 -->
<g transform="translate(0,1204)">
<g clip-path="url(#cp)">
<use href="#spec"/><use href="#low3"/><use href="#nl"/><use href="#nh"/><use href="#jag"/><use href="#r3"/>
</g>
<use href="#ax"/>
<text x="481" y="573" font-size="20.8" text-anchor="middle" style="white-space:pre">January 2025 FN OUL  HHZ</text>
</g>
</svg>
</body></html>
